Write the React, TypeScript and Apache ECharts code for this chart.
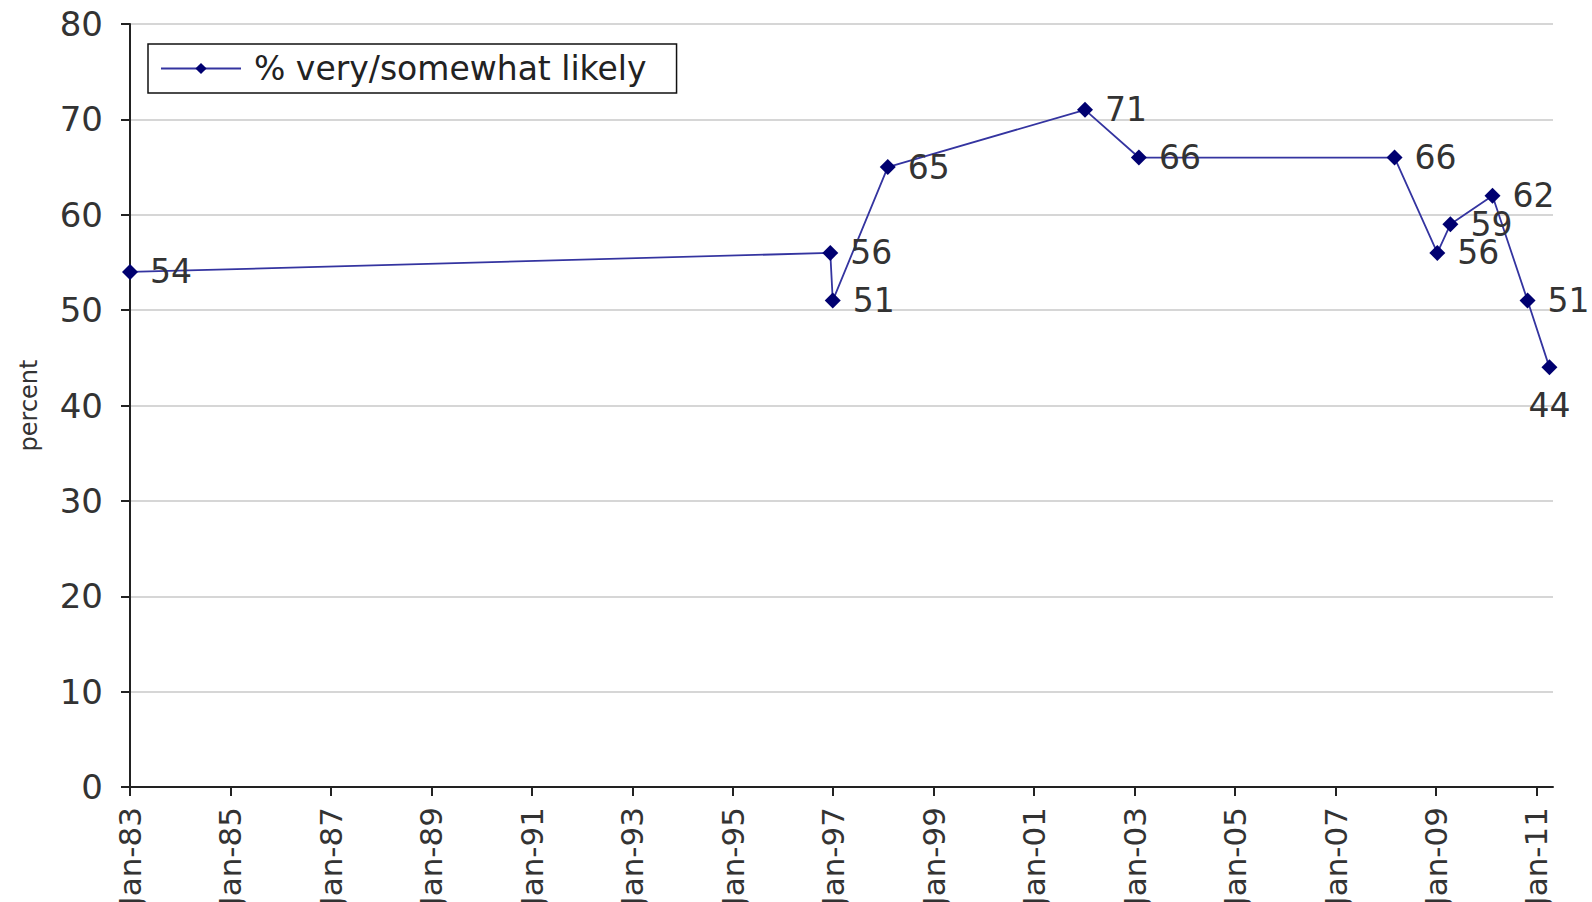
import React, { useEffect, useRef } from "react";
import * as echarts from "echarts";

const seriesName = "% very/somewhat likely";
const surveyDates = [
  "1983-01-01",
  "1996-12-10",
  "1996-12-28",
  "1998-02-01",
  "2002-01-05",
  "2003-02-01",
  "2008-03-05",
  "2009-01-10",
  "2009-04-15",
  "2010-02-15",
  "2010-10-28",
  "2011-04-05",
];
const likelyValues = [54, 56, 51, 65, 71, 66, 66, 56, 59, 62, 51, 44];
const axisStart = "1983-01-01";
const axisEnd = "2011-05-01";
const yTicks = [0, 10, 20, 30, 40, 50, 60, 70, 80];

const FONT = "DejaVu Sans";

function toYears(d: string): number {
  const a = Date.parse(axisStart + "T00:00:00Z");
  const b = Date.parse(d + "T00:00:00Z");
  return (b - a) / (365.25 * 24 * 3600 * 1000);
}

export default function App() {
  const ref = useRef<HTMLDivElement>(null);
  useEffect(() => {
    if (!ref.current) return;
    const chart = echarts.init(ref.current, undefined, { renderer: "svg" });
    const lastIdx = likelyValues.length - 1;
    const data = surveyDates.map((d, i) => {
      const item: any = { value: [toYears(d), likelyValues[i]] };
      if (i === lastIdx) item.label = { position: "bottom", distance: 14 };
      return item;
    });
    chart.setOption({
      animation: false,
      backgroundColor: "#ffffff",
      textStyle: { fontFamily: FONT },
      grid: { left: 130, right: 39, top: 24, bottom: 115, outerBoundsMode: "none", containLabel: false },
      legend: {
        show: true,
        data: [seriesName],
        left: 148,
        top: 44,
        orient: "horizontal",
        borderColor: "#111",
        borderWidth: 1.5,
        padding: [8, 30, 8, 12],
        itemWidth: 80,
        itemHeight: 14,
        textStyle: { fontFamily: FONT, fontSize: 33, color: "#222", padding: [0, 0, 0, 8] },
      },
      xAxis: {
        type: "value",
        min: 0,
        max: toYears(axisEnd),
        interval: 2,
        axisLine: { show: true, onZero: false, lineStyle: { color: "#222", width: 2 } },
        axisTick: { show: true, length: 9, lineStyle: { color: "#222", width: 2 } },
        splitLine: { show: false },
        axisLabel: {
          rotate: 90,
          margin: 20,
          fontFamily: FONT,
          fontSize: 31,
          color: "#333",
          showMaxLabel: false,
          formatter: (v: number) => {
            const yr = (1983 + Math.round(v)) % 100;
            return "Jan-" + String(yr).padStart(2, "0");
          },
        },
      },
      yAxis: {
        type: "value",
        min: yTicks[0],
        max: yTicks[yTicks.length - 1],
        interval: 10,
        name: "percent",
        nameLocation: "middle",
        nameRotate: 90,
        nameGap: 89,
        nameTextStyle: { fontFamily: FONT, fontSize: 24, color: "#333" },
        axisLine: { show: true, lineStyle: { color: "#222", width: 2 } },
        axisTick: { show: true, length: 9, lineStyle: { color: "#222", width: 2 } },
        splitLine: { show: true, lineStyle: { color: "#c8c8c8", width: 1.5 } },
        axisLabel: { margin: 27, fontFamily: FONT, fontSize: 34, color: "#333" },
      },
      series: [
        {
          name: seriesName,
          type: "line",
          data,
          symbol: "diamond",
          symbolSize: 16,
          itemStyle: { color: "#000070" },
          lineStyle: { color: "#3434a0", width: 1.8 },
          label: {
            show: true,
            position: "right",
            distance: 12,
            fontFamily: FONT,
            fontSize: 33,
            color: "#333",
            formatter: (p: any) => String(p.value[1]),
          },
          z: 3,
        },
      ],
    });
    return () => chart.dispose();
  }, []);
  return (
    <div
      ref={ref}
      style={{ position: "fixed", left: 0, top: 0, width: 1592, height: 902 }}
    />
  );
}
